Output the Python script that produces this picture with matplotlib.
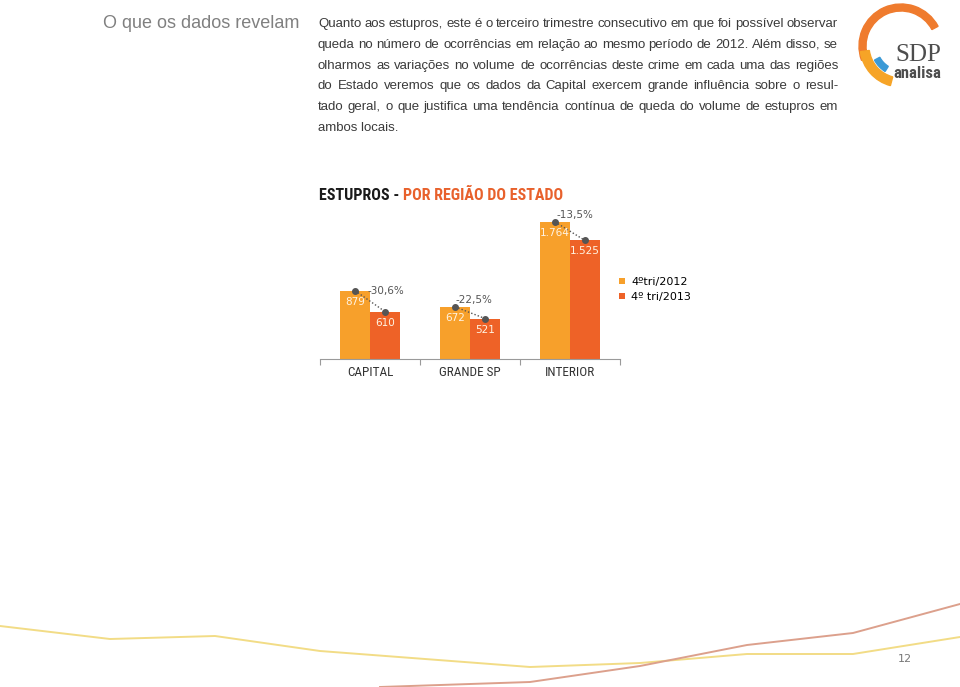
import matplotlib
matplotlib.use('Agg')
import matplotlib.pyplot as plt
import numpy as np
from matplotlib import font_manager
from matplotlib.patches import Wedge

# chart data
categories = ['CAPITAL', 'GRANDE SP', 'INTERIOR']
tri_2012 = [879, 672, 1764]
tri_2013 = [610, 521, 1525]
series_labels = ['4ºtri/2012', '4º tri/2013']

# page texts
section_title = 'O que os dados revelam'
title_black = 'ESTUPROS - '
title_red = 'POR REGIÃO DO ESTADO'
body_lines = [
    'Quanto aos estupros, este é o terceiro trimestre consecutivo em que foi possível observar',
    'queda no número de ocorrências em relação ao mesmo período de 2012. Além disso, se',
    'olharmos as variações no volume de ocorrências deste crime em cada uma das regiões',
    'do Estado veremos que os dados da Capital exercem grande influência sobre o resul-',
    'tado geral, o que justifica uma tendência contínua de queda do volume de estupros em',
    'ambos locais.',
]
page_number = '12'

# decorative lines at the bottom of the page (page pixels)
deco_yellow_x = [0, 110, 215, 320, 530, 640, 747, 853, 960]
deco_yellow_y = [626, 639, 636, 651, 667, 663, 654, 654, 637]
deco_red_x = [380, 530, 640, 747, 853, 960]
deco_red_y = [687, 682, 666, 645, 633, 604]

orange = '#F7A02B'
red = '#EE6227'
W, H = 960, 687

available = {f.name for f in font_manager.fontManager.ttflist}
narrow = next((n for n in ['Liberation Sans Narrow', 'Roboto Condensed', 'Open Sans Condensed']
               if n in available), 'Liberation Sans')

fig = plt.figure(figsize=(W / 100, H / 100), dpi=100)
fig.patch.set_facecolor('white')

# page layer in pixel coordinates
bg = fig.add_axes([0, 0, 1, 1])
bg.set_xlim(0, W)
bg.set_ylim(H, 0)
bg.axis('off')

bg.text(103, 24, section_title, fontsize=13, color='#808080', va='center',
        family='Liberation Sans')

renderer = fig.canvas.get_renderer()


def justified(line, x0, x1, y, **kw):
    words = line.split()
    objs = [bg.text(0, y, w, va='center', **kw) for w in words]
    widths = [o.get_window_extent(renderer).width for o in objs]
    gap = (x1 - x0 - sum(widths)) / (len(words) - 1)
    x = x0
    for o, w in zip(objs, widths):
        o.set_x(x)
        x += w + gap


body_style = dict(fontsize=9.5, color='#3a3a3a', family='Liberation Sans')
for i, line in enumerate(body_lines):
    y = 24 + i * 20.8
    if i < len(body_lines) - 1:
        justified(line, 318, 838, y, **body_style)
    else:
        bg.text(318, y, line, va='center', **body_style)

t1 = bg.text(319, 196, title_black, fontsize=11.5, fontweight='bold', color='#1a1a1a',
             va='center', family=narrow)
tw = t1.get_window_extent(renderer).width
bg.text(319 + tw, 196, title_red, fontsize=11.5, fontweight='bold', color='#E8612C',
        va='center', family=narrow)

bg.text(905, 659, page_number, fontsize=8, color='#777777', va='center', ha='center')

bg.plot(deco_yellow_x, deco_yellow_y, color='#F2DC86', lw=1.4, clip_on=False)
bg.plot(deco_red_x, deco_red_y, color='#DCA08C', lw=1.4, clip_on=False)

# logo
cx, cy = 901, 46
bg.add_patch(Wedge((cx, cy), 42, 160, 332, width=7, color='#EF7B2E'))
bg.add_patch(Wedge((cx, cy), 41, 105, 172, width=9, color='#F6A427'))
bg.add_patch(Wedge((cx, cy), 30, 122, 152, width=6, color='#3C9AD6'))
bg.text(918, 55, 'SDP', fontsize=18, color='#4d4d4d', ha='center', va='center',
        family='Liberation Serif')
bg.text(917, 74, 'analisa', fontsize=12, color='#4d4d4d', ha='center', va='center',
        fontweight='bold', family=narrow)

# chart
ax = fig.add_axes([320 / W, (H - 359) / H, 300 / W, 150 / H])
ax.patch.set_alpha(0)
x = np.arange(len(categories))
bw = 0.3
ax.bar(x - bw / 2, tri_2012, bw, color=orange, label=series_labels[0])
ax.bar(x + bw / 2, tri_2013, bw, color=red, label=series_labels[1])
ax.set_xlim(-0.5, len(categories) - 0.5)
ax.set_ylim(0, 1930)

for s in ['top', 'right', 'left']:
    ax.spines[s].set_visible(False)
ax.spines['bottom'].set_color('#9a9a9a')
ax.set_yticks([])
ax.set_xticks(np.arange(len(categories) + 1) - 0.5)
ax.set_xticklabels([])
ax.tick_params(axis='x', which='major', length=4, color='#9a9a9a', direction='out')
ax.set_xticks(x, minor=True)
ax.set_xticklabels(categories, minor=True, fontsize=9.5, color='#333333', family=narrow)
ax.tick_params(axis='x', which='minor', length=0, pad=5)


def fmt(v):
    return f'{v:,}'.replace(',', '.')


pct_offsets = [(16, 10), (4, 13), (5, 16)]
for i, (a, b) in enumerate(zip(tri_2012, tri_2013)):
    for xp, v in [(x[i] - bw / 2, a), (x[i] + bw / 2, b)]:
        ax.annotate(fmt(v), (xp, v), xytext=(0, -11), textcoords='offset pixels',
                    ha='center', va='center', fontsize=7.5, color='#FFF3E2')
    ax.plot([x[i] - bw / 2, x[i] + bw / 2], [a, b], ls=(0, (1, 1.5)), color='#555555',
            lw=1, marker='o', ms=4, clip_on=False)
    pct = (b - a) / a * 100
    ax.annotate(f'{pct:.1f}%'.replace('.', ','), (x[i], (a + b) / 2),
                xytext=pct_offsets[i], textcoords='offset pixels',
                ha='center', va='center', fontsize=7.5, color='#555555')

ax.legend(loc='upper left', bbox_to_anchor=(619 / W, 1 - 277 / H),
          bbox_transform=fig.transFigure, frameon=False, fontsize=8,
          handlelength=0.5, handleheight=0.5, handletextpad=0.6,
          labelspacing=0.45, borderpad=0, borderaxespad=0)

fig.savefig('out.png', dpi=100)
